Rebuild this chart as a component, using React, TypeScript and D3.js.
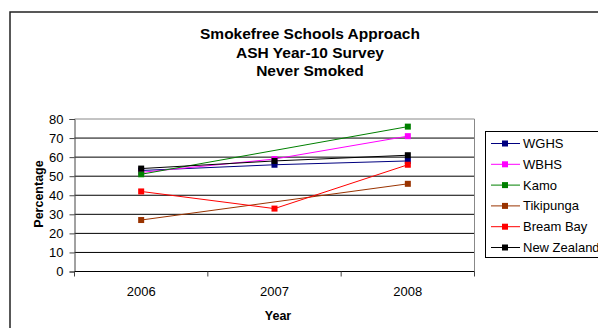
import React, { useRef, useEffect } from 'react';
import * as d3 from 'd3';

const years = ['2006', '2007', '2008'];
const seriesNames = ['WGHS', 'WBHS', 'Kamo', 'Tikipunga', 'Bream Bay', 'New Zealand'];
const seriesColors = ['#000080', '#ff00ff', '#008000', '#993300', '#ff0000', '#000000'];
const wghs = [53, 56, 58];
const wbhs = [52, 59, 71];
const kamo = [51, null, 76];
const tikipunga = [27, null, 46];
const breamBay = [42, 33, 56];
const newZealand = [54, 58, 61];
const yTicks = [0, 10, 20, 30, 40, 50, 60, 70, 80];
const titleLines = ['Smokefree Schools Approach', 'ASH Year-10 Survey', 'Never Smoked'];

const allSeries: (number | null)[][] = [wghs, wbhs, kamo, tikipunga, breamBay, newZealand];

const App: React.FC = () => {
    const svgRef = useRef<SVGSVGElement>(null);

    const width = 598;
    const height = 328;
    const plotL = 74.5;
    const plotR = 474.5;
    const plotT = 119;
    const plotB = 271.5;
    const font = '"Liberation Sans", Arial, sans-serif';

    useEffect(() => {
        if (!svgRef.current) return;
        const svg = d3.select(svgRef.current);
        svg.selectAll('*').remove();

        // outer chart frame
        svg.append('rect')
            .attr('x', 10).attr('y', 12)
            .attr('width', 620).attr('height', 340)
            .attr('fill', 'white')
            .attr('stroke', '#222').attr('stroke-width', 1.5);

        // title
        svg.append('g').selectAll('text')
            .data(titleLines)
            .enter()
            .append('text')
            .attr('x', 310)
            .attr('y', (d, i) => 39 + i * 18.5)
            .attr('text-anchor', 'middle')
            .style('font-family', font)
            .style('font-size', '15.5px')
            .style('font-weight', 'bold')
            .text(d => d);

        const xScale = d3.scaleBand<string>()
            .domain(years)
            .range([plotL, plotR]);

        const yScale = d3.scaleLinear()
            .domain([0, 80])
            .range([plotB, plotT]);

        // gridlines
        svg.append('g').selectAll('line')
            .data(yTicks.filter(t => t > 0))
            .enter()
            .append('line')
            .attr('x1', plotL).attr('x2', plotR)
            .attr('y1', d => yScale(d)).attr('y2', d => yScale(d))
            .attr('stroke', d => d === 80 ? '#888' : '#000')
            .attr('stroke-width', 1);

        // plot right border
        svg.append('line')
            .attr('x1', plotR).attr('x2', plotR)
            .attr('y1', plotT).attr('y2', plotB)
            .attr('stroke', '#888');

        // y axis
        const yAxis = svg.append('g')
            .attr('transform', `translate(${plotL},0)`)
            .call(d3.axisLeft(yScale).tickValues(yTicks).tickSize(5).tickPadding(6));
        yAxis.select('.domain').attr('stroke', '#444');
        yAxis.selectAll('.tick line').attr('stroke', '#444');
        yAxis.selectAll('text')
            .style('font-family', font)
            .style('font-size', '13px')
            .attr('fill', '#000');

        // x axis
        const xAxis = svg.append('g')
            .attr('transform', `translate(0,${plotB})`);
        xAxis.append('line')
            .attr('x1', plotL).attr('x2', plotR)
            .attr('stroke', '#000');
        const tickXs = [plotL, ...years.map(y => xScale(y)! + xScale.bandwidth())];
        xAxis.selectAll('.xt')
            .data(tickXs)
            .enter()
            .append('line')
            .attr('x1', d => d).attr('x2', d => d)
            .attr('y1', 0).attr('y2', 5)
            .attr('stroke', '#444');
        xAxis.selectAll('text')
            .data(years)
            .enter()
            .append('text')
            .attr('x', d => xScale(d)! + xScale.bandwidth() / 2)
            .attr('y', 24)
            .attr('text-anchor', 'middle')
            .style('font-family', font)
            .style('font-size', '13px')
            .text(d => d);

        // axis titles
        svg.append('text')
            .attr('x', 278).attr('y', 319.5)
            .attr('text-anchor', 'middle')
            .style('font-family', font)
            .style('font-size', '12.5px')
            .style('font-weight', 'bold')
            .text('Year');

        svg.append('text')
            .attr('transform', 'translate(42.5,194) rotate(-90)')
            .attr('text-anchor', 'middle')
            .style('font-family', font)
            .style('font-size', '12.5px')
            .style('font-weight', 'bold')
            .text('Percentage');

        // series
        const line = d3.line<{ year: string; v: number }>()
            .x(d => xScale(d.year)! + xScale.bandwidth() / 2)
            .y(d => yScale(d.v));

        allSeries.forEach((vals, si) => {
            const pts = vals
                .map((v, i) => ({ year: years[i], v: v as number }))
                .filter(p => p.v !== null);
            const g = svg.append('g');
            g.append('path')
                .attr('d', line(pts))
                .attr('fill', 'none')
                .attr('stroke', seriesColors[si])
                .attr('stroke-width', 1);
            g.selectAll('rect')
                .data(pts)
                .enter()
                .append('rect')
                .attr('x', d => xScale(d.year)! + xScale.bandwidth() / 2 - 3)
                .attr('y', d => yScale(d.v) - 3)
                .attr('width', 6).attr('height', 6)
                .attr('fill', seriesColors[si]);
        });

        // legend
        const lg = svg.append('g');
        lg.append('rect')
            .attr('x', 485.5).attr('y', 131.5)
            .attr('width', 130).attr('height', 126)
            .attr('fill', 'white')
            .attr('stroke', '#000');
        const items = lg.selectAll('.item')
            .data(seriesNames)
            .enter()
            .append('g')
            .attr('transform', (d, i) => `translate(0,${143.5 + i * 20.8})`);
        items.append('line')
            .attr('x1', 491).attr('x2', 520)
            .attr('stroke', (d, i) => seriesColors[i]);
        items.append('rect')
            .attr('x', 502).attr('y', -3)
            .attr('width', 6).attr('height', 6)
            .attr('fill', (d, i) => seriesColors[i]);
        items.append('text')
            .attr('x', 523).attr('y', 4.5)
            .style('font-family', font)
            .style('font-size', '13px')
            .text(d => d);
    }, []);

    return (
        <svg ref={svgRef} width={width} height={height}
            style={{ position: 'absolute', left: 0, top: 0, background: 'white' }} />
    );
};

export default App;
